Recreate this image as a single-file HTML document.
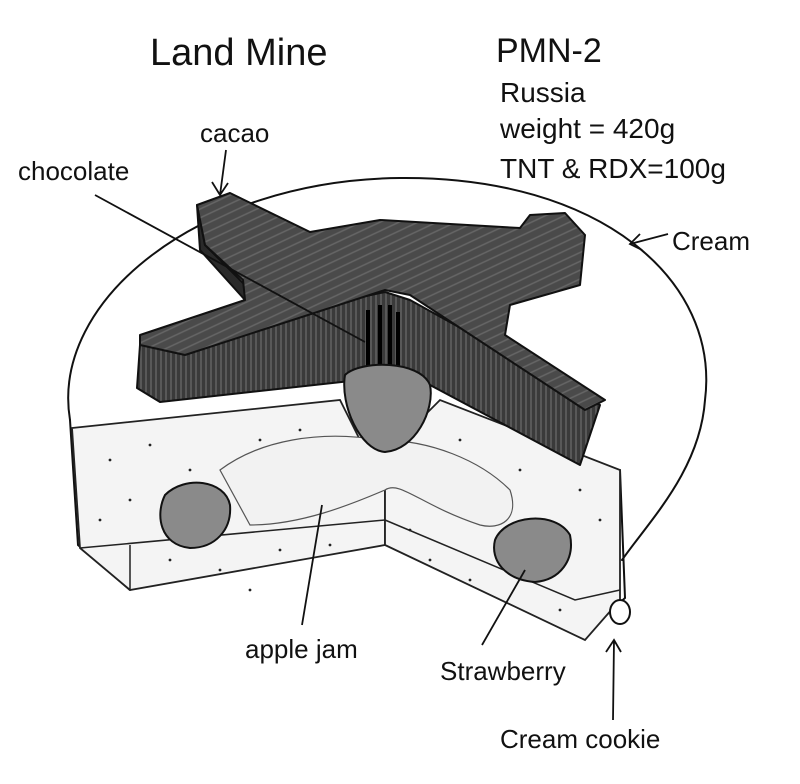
<!DOCTYPE html>
<html><head><meta charset="utf-8"><style>
html,body{margin:0;padding:0;background:#fff;}
svg{display:block}
text{font-family:"Liberation Sans",sans-serif;fill:#111;}
</style></head><body>
<svg width="800" height="784" viewBox="0 0 800 784" xmlns="http://www.w3.org/2000/svg">
<defs>
<pattern id="h" width="5" height="20" patternUnits="userSpaceOnUse">
<rect width="5" height="20" fill="#3a3a3a"/><line x1="1" y1="0" x2="1" y2="20" stroke="#777" stroke-width="1"/>
</pattern>
<pattern id="d" width="8" height="8" patternUnits="userSpaceOnUse" patternTransform="rotate(-25)">
<rect width="8" height="8" fill="#4a4a4a"/><line x1="0" y1="2" x2="8" y2="2" stroke="#666" stroke-width="1.5"/>
</pattern>
</defs>
<rect width="800" height="784" fill="#fff"/>
<g stroke="#111" stroke-width="2" fill="none" stroke-linecap="round">
<path d="M70,420 C50,300 200,180 400,178 C600,176 720,280 705,400 C700,470 650,520 622,560"/>
<path d="M70,420 L78,545 L130,590"/>
<path d="M620,470 L625,598 L590,630"/>
</g>
<g stroke="#222" stroke-width="1.8" fill="#f4f4f4">
<path d="M72,428 L340,400 L360,440 L385,455 L385,545 L130,590 L80,548 Z"/>
<path d="M385,455 L440,400 L620,470 L620,600 L585,640 L385,545 Z"/>
</g>
<g stroke="#222" stroke-width="1.5" fill="none">
<path d="M80,548 L385,520"/><path d="M130,590 L130,545"/>
<path d="M385,520 L575,600 L620,590"/>
</g>
<path d="M220,470 C260,440 320,430 380,440 C430,440 480,460 510,490 C520,520 500,530 480,525 C420,505 400,480 385,490 C350,505 300,525 250,525 Z" fill="#f2f2f2" stroke="#555" stroke-width="1.2"/>
<g fill="#222">
<circle cx="110" cy="460" r="1.4"/><circle cx="150" cy="445" r="1.4"/><circle cx="190" cy="470" r="1.4"/><circle cx="130" cy="500" r="1.4"/><circle cx="260" cy="440" r="1.4"/><circle cx="300" cy="430" r="1.4"/><circle cx="170" cy="560" r="1.4"/><circle cx="220" cy="570" r="1.4"/><circle cx="280" cy="550" r="1.4"/><circle cx="330" cy="545" r="1.4"/><circle cx="250" cy="590" r="1.4"/><circle cx="460" cy="440" r="1.4"/><circle cx="520" cy="470" r="1.4"/><circle cx="580" cy="490" r="1.4"/><circle cx="600" cy="520" r="1.4"/><circle cx="430" cy="560" r="1.4"/><circle cx="470" cy="580" r="1.4"/><circle cx="560" cy="610" r="1.4"/><circle cx="410" cy="530" r="1.4"/><circle cx="100" cy="520" r="1.4"/>
</g>
<!-- cross -->
<g stroke="#111" stroke-width="2" stroke-linejoin="round">
<path d="M140,345 L385,292 L410,300 L600,405 L580,465 L430,385 L378,378 L160,402 L137,388 Z" fill="url(#h)"/>
<path d="M197,205 L205,245 L245,285 L245,300 L200,250 Z" fill="#2a2a2a"/>
<path d="M197,205 L230,193 L310,232 L380,220 L520,228 L530,215 L565,213 L585,235 L580,285 L510,305 L505,335 L605,400 L585,410 L410,295 L385,290 L185,355 L140,345 L140,335 L245,300 L243,280 L205,245 Z" fill="url(#d)"/>
</g>
<g stroke="#000" stroke-width="4"><line x1="368" y1="310" x2="368" y2="378"/><line x1="380" y1="305" x2="380" y2="372"/><line x1="390" y1="305" x2="390" y2="372"/><line x1="398" y1="312" x2="398" y2="372"/></g>
<g stroke="#111" stroke-width="2" fill="#8a8a8a">
<path d="M345,375 C360,360 420,360 430,385 C435,410 415,450 385,452 C360,450 340,405 345,375 Z"/>
<path d="M165,495 C185,475 225,480 230,505 C232,530 215,548 190,548 C160,545 155,515 165,495 Z"/>
<path d="M495,540 C505,515 555,510 570,535 C575,560 560,580 535,582 C505,580 490,560 495,540 Z"/>
</g>
<ellipse cx="620" cy="612" rx="10" ry="12" fill="#fff" stroke="#111" stroke-width="2"/>
<g stroke="#111" stroke-width="1.8" fill="none">
<line x1="95" y1="195" x2="365" y2="342"/>
<path d="M226,150 L220,195 M212,182 L220,195 L228,183"/>
<path d="M668,234 L630,244 M640,234 L630,244 L642,250"/>
<line x1="302" y1="625" x2="322" y2="505"/>
<line x1="482" y1="645" x2="525" y2="570"/>
<path d="M613,720 L614,640 M606,652 L614,640 L621,652"/>
</g>
<text x="150" y="65" font-size="38">Land Mine</text>
<text x="496" y="62" font-size="34">PMN-2</text>
<text x="500" y="102" font-size="28">Russia</text>
<text x="500" y="138" font-size="28">weight = 420g</text>
<text x="500" y="178" font-size="28">TNT &amp; RDX=100g</text>
<text x="200" y="142" font-size="26">cacao</text>
<text x="18" y="180" font-size="26">chocolate</text>
<text x="672" y="250" font-size="26">Cream</text>
<text x="245" y="658" font-size="26">apple jam</text>
<text x="440" y="680" font-size="26">Strawberry</text>
<text x="500" y="748" font-size="26">Cream cookie</text>
</svg>
</body></html>
